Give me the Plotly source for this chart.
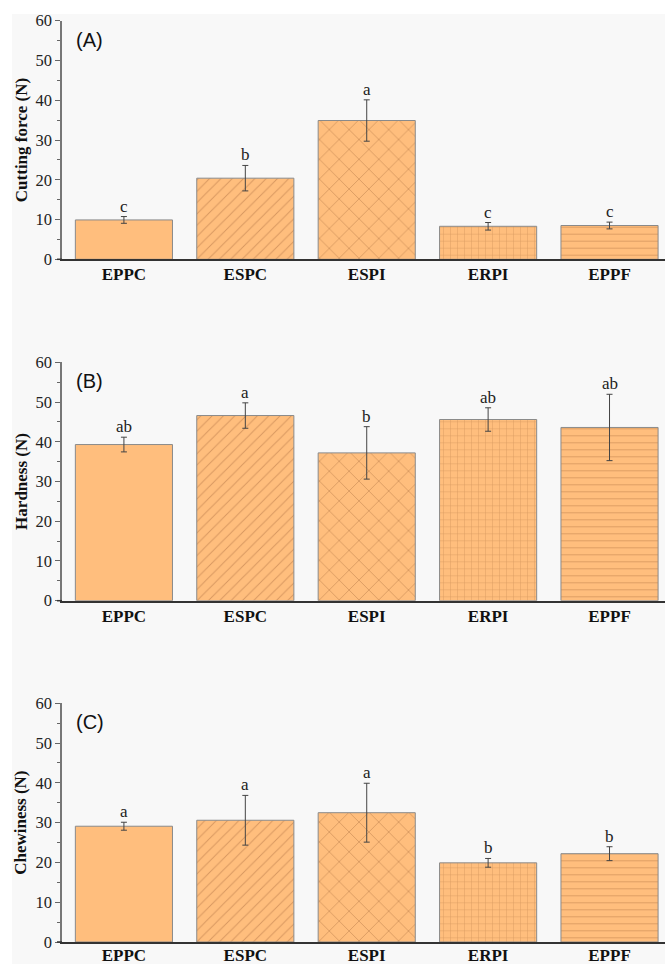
import plotly.graph_objects as go
from plotly.subplots import make_subplots

categories = ["EPPC", "ESPC", "ESPI", "ERPI", "EPPF"]

cutting_force = [9.9, 20.4, 34.9, 8.3, 8.5]
cutting_err = [0.85, 3.2, 5.2, 0.95, 0.85]
cutting_letters = ["c", "b", "a", "c", "c"]

hardness = [39.3, 46.6, 37.2, 45.6, 43.6]
hardness_err = [1.85, 3.2, 6.6, 2.95, 8.35]
hardness_letters = ["ab", "a", "b", "ab", "ab"]

chewiness = [29.1, 30.6, 32.5, 19.9, 22.2]
chewiness_err = [1.0, 6.25, 7.4, 1.1, 1.75]
chewiness_letters = ["a", "a", "a", "b", "b"]

y_ticks = [0, 10, 20, 30, 40, 50, 60]

panels = [
    ("(A)", "Cutting force (N)", cutting_force, cutting_err, cutting_letters),
    ("(B)", "Hardness (N)", hardness, hardness_err, hardness_letters),
    ("(C)", "Chewiness (N)", chewiness, chewiness_err, chewiness_letters),
]

W, H = 665, 964
# pixel positions of each panel (top, bottom)
panel_px = [(20.7, 259.3), (362.3, 600.7), (703.3, 942.0)]
x_left_px = 62

fig = make_subplots(rows=3, cols=1)

serif = "Liberation Serif"
shapes_ = ["", "/", "x", "+", "-"]
sizes_ = [8, 8, 14, 7, 7]

annotations = []
shapes = [
    dict(type="rect", xref="paper", yref="paper", x0=0, x1=1, y0=1 - 14 / H, y1=1,
         fillcolor="white", line=dict(width=0), layer="above"),
    dict(type="rect", xref="paper", yref="paper", x0=0, x1=12 / W, y0=0, y1=1,
         fillcolor="white", line=dict(width=0), layer="above"),
]
for i, (tag, title, vals, errs, letters) in enumerate(panels):
    r = i + 1
    fig.add_trace(
        go.Bar(
            x=categories,
            y=vals,
            width=0.8,
            marker=dict(
                color="#FFBE7D",
                line=dict(color="#8a8a8a", width=1),
                pattern=dict(
                    shape=shapes_,
                    size=sizes_,
                    solidity=0.12,
                    fgcolor="#C98A55",
                    fgopacity=0.75,
                ),
            ),
            error_y=dict(
                type="data",
                array=errs,
                visible=True,
                color="#444444",
                thickness=1,
                width=3,
            ),
            showlegend=False,
        ),
        row=r,
        col=1,
    )
    xa = "x" if r == 1 else f"x{r}"
    ya = "y" if r == 1 else f"y{r}"
    for c, v, e, l in zip(categories, vals, errs, letters):
        annotations.append(
            dict(
                x=c, y=v + e, xref=xa, yref=ya, text=l, showarrow=False,
                yanchor="bottom", yshift=-1,
                font=dict(family=serif, size=17, color="#222222"),
            )
        )
    top, bot = panel_px[i]
    annotations.append(
        dict(
            x=74 / W, y=1 - (top + 19) / H, xref="paper", yref="paper",
            text=tag, showarrow=False, xanchor="left", yanchor="middle",
            font=dict(family="Liberation Sans", size=20, color="#111111"),
        )
    )
    # small extension of the x-axis line to the left of the y axis
    shapes.append(
        dict(type="line", xref="paper", yref="paper",
             x0=57 / W, x1=x_left_px / W, y0=1 - bot / H, y1=1 - bot / H,
             line=dict(color="#333333", width=1.5))
    )
    fig.update_yaxes(
        row=r, col=1,
        domain=[1 - bot / H, 1 - top / H],
        range=[0, 60],
        automargin=False,
        tickvals=y_ticks,
        ticks="outside",
        ticklen=5,
        tickwidth=1,
        tickcolor="#666666",
        minor=dict(ticks="outside", ticklen=3, dtick=5, tickcolor="#666666", tickwidth=1),
        showline=True,
        linecolor="#777777",
        linewidth=1.5,
        showgrid=False,
        zeroline=False,
        tickfont=dict(family=serif, size=16.5, color="#222222"),
        title=dict(text="<b>" + title + "</b>", standoff=4,
                   font=dict(family=serif, size=17, color="#111111")),
    )
    fig.update_xaxes(
        row=r, col=1,
        domain=[x_left_px / W, 1],
        range=[-0.51, 4.457],
        automargin=False,
        showline=True,
        linecolor="#333333",
        linewidth=1.5,
        ticks="",
        ticklabelstandoff=-1 if r < 3 else -3,
        showgrid=False,
        zeroline=False,
        tickfont=dict(family=serif, size=17, color="#111111"),
        tickprefix="<b>",
        ticksuffix="</b>",
    )

fig.update_layout(
    width=W,
    height=H,
    margin=dict(l=0, r=0, t=0, b=0, pad=0),
    paper_bgcolor="#F8F8F8",
    plot_bgcolor="#F8F8F8",
    bargap=0.2,
    annotations=annotations,
    shapes=shapes,
)

fig.write_html(
    "out.html",
    config={"displayModeBar": False},
    post_script="document.body.style.margin='0';document.body.style.overflow='hidden';",
)
